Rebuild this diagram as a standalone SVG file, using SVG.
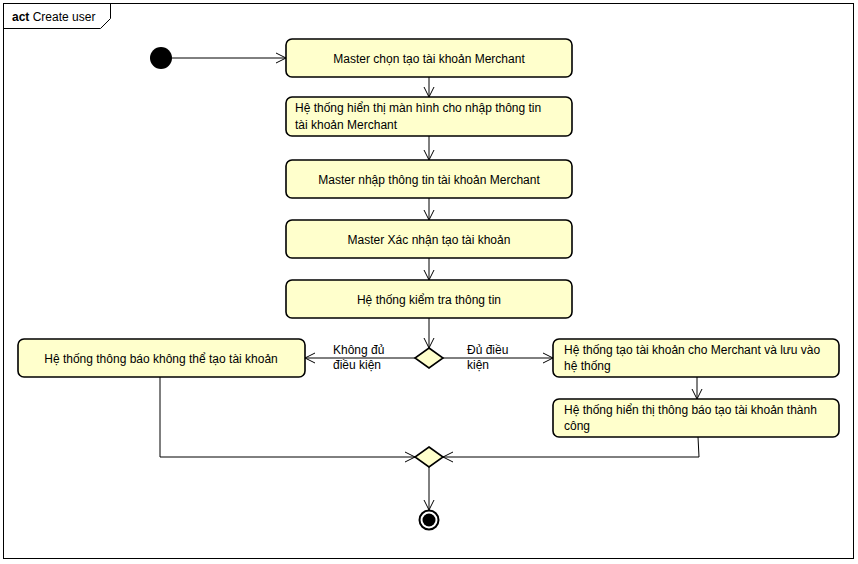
<svg xmlns="http://www.w3.org/2000/svg" width="858" height="564" viewBox="0 0 858 564">
  <defs>
    <marker id="arrow" viewBox="0 0 12 12" refX="11" refY="6" markerWidth="12" markerHeight="12" markerUnits="userSpaceOnUse" orient="auto">
      <path d="M1,1 L11,6 L1,11" fill="none" stroke="#000" stroke-width="1"/>
    </marker>
  </defs>
  <style>
    .act { fill: #ffffcc; stroke: #000; stroke-width: 1.6; }
    .dia { fill: #ffffcc; stroke: #000; stroke-width: 1.6; }
    .t { font-family: "Liberation Sans", Arial, sans-serif; font-size: 12px; fill: #000; }
    .c { text-anchor: middle; }
    .flow { fill: none; stroke: #000; stroke-width: 1; marker-end: url(#arrow); }
    .plain { fill: none; stroke: #000; stroke-width: 1; }
  </style>
  <rect width="858" height="564" fill="#fff"/>

  <!-- frame -->
  <g id="frame">
    <rect x="3.5" y="3.5" width="850" height="555" fill="none" stroke="#000" stroke-width="1"/>
    <path d="M3.5,28.5 L100.5,28.5 L110.5,18.5 L110.5,3.5" fill="none" stroke="#000" stroke-width="1"/>
    <text x="12" y="21" class="t" style="font-size:12px"><tspan font-weight="bold">act</tspan> Create user</text>
  </g>

  <!-- connectors -->
  <g id="connectors">
    <line x1="172" y1="58" x2="286" y2="58" class="flow"/>
    <line x1="429" y1="77" x2="429" y2="97" class="flow"/>
    <line x1="429" y1="136" x2="429" y2="160" class="flow"/>
    <line x1="429" y1="198" x2="429" y2="220" class="flow"/>
    <line x1="429" y1="258" x2="429" y2="280" class="flow"/>
    <line x1="429" y1="318" x2="429" y2="348" class="flow"/>
    <line x1="415" y1="358" x2="305" y2="358" class="flow"/>
    <line x1="443" y1="358" x2="553" y2="358" class="flow"/>
    <line x1="697" y1="377" x2="697" y2="399" class="flow"/>
    <polyline points="160,377 160,457 415,457" class="flow"/>
    <polyline points="698,437 699,457 443,457" class="flow"/>
    <line x1="429" y1="467" x2="429" y2="510" class="flow"/>
    <text x="333" y="354" class="t">Không đủ</text>
    <text x="333" y="369" class="t">điều kiện</text>
    <text x="467" y="354" class="t">Đủ điều</text>
    <text x="467" y="369" class="t">kiện</text>
  </g>

  <g id="start">
    <circle cx="161" cy="58" r="11" fill="#000"/>
  </g>

  <g id="a1">
    <rect x="286" y="39" width="286" height="38" rx="6" class="act"/>
    <text x="429" y="63" class="t c">Master chọn tạo tài khoản Merchant</text>
  </g>
  <g id="a2">
    <rect x="286" y="97" width="286" height="39" rx="6" class="act"/>
    <text x="295" y="112" class="t">Hệ thống hiển thị màn hình cho nhập thông tin</text>
    <text x="295" y="129" class="t">tài khoản Merchant</text>
  </g>
  <g id="a3">
    <rect x="286" y="160" width="286" height="38" rx="6" class="act"/>
    <text x="429" y="184" class="t c">Master nhập thông tin tài khoản Merchant</text>
  </g>
  <g id="a4">
    <rect x="286" y="220" width="286" height="38" rx="6" class="act"/>
    <text x="429" y="244" class="t c">Master Xác nhận tạo tài khoản</text>
  </g>
  <g id="a5">
    <rect x="286" y="280" width="286" height="38" rx="6" class="act"/>
    <text x="429" y="304" class="t c">Hệ thống kiểm tra thông tin</text>
  </g>

  <g id="decision">
    <polygon points="429,348 443,358 429,368 415,358" class="dia"/>
  </g>

  <g id="fail">
    <rect x="18" y="339" width="287" height="38" rx="6" class="act"/>
    <text x="161" y="363" class="t c">Hệ thống thông báo không thể tạo tài khoản</text>
  </g>
  <g id="create">
    <rect x="553" y="339" width="286" height="38" rx="6" class="act"/>
    <text x="564" y="354" class="t">Hệ thống tạo tài khoản cho Merchant và lưu vào</text>
    <text x="564" y="370" class="t">hệ thống</text>
  </g>
  <g id="notify">
    <rect x="553" y="399" width="286" height="38" rx="6" class="act"/>
    <text x="564" y="414" class="t">Hệ thống hiển thị thông báo tạo tài khoản thành</text>
    <text x="564" y="430" class="t">công</text>
  </g>

  <g id="merge">
    <polygon points="429,447 443,457 429,467 415,457" class="dia"/>
  </g>

  <g id="end">
    <circle cx="429" cy="520" r="9.5" fill="#fff" stroke="#000" stroke-width="2"/>
    <circle cx="429" cy="520" r="6.5" fill="#000"/>
  </g>
</svg>
